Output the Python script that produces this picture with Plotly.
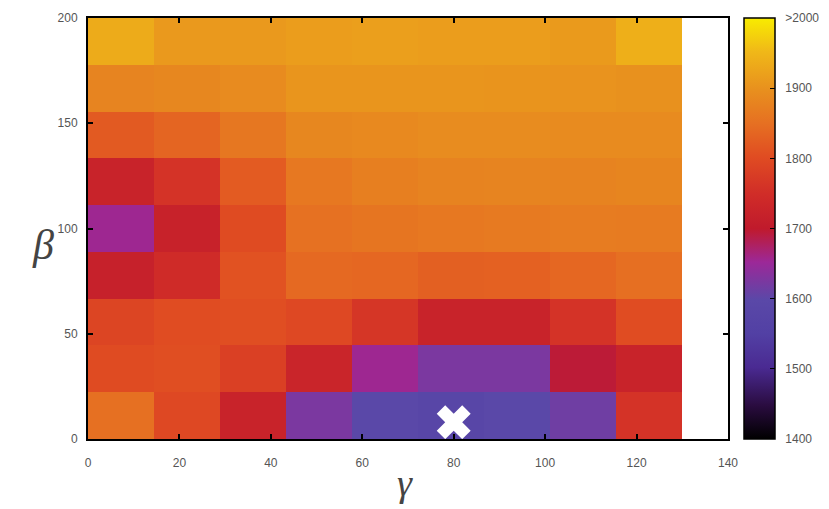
import plotly.graph_objects as go

# Grid edges (gamma, beta)
gamma_edges = [0, 14.44, 28.89, 43.33, 57.78, 72.22, 86.67, 101.11, 115.56, 130]
beta_edges = [0, 22.22, 44.44, 66.67, 88.89, 111.11, 133.33, 155.56, 177.78, 200]

# Values, rows from beta=0 (bottom) to beta=200 (top)
row0 = [1850, 1795, 1725, 1625, 1595, 1585, 1595, 1615, 1760]
row1 = [1800, 1805, 1782, 1728, 1655, 1625, 1625, 1695, 1725]
row2 = [1790, 1802, 1805, 1795, 1765, 1725, 1725, 1760, 1802]
row3 = [1718, 1745, 1810, 1840, 1838, 1828, 1830, 1838, 1848]
row4 = [1655, 1720, 1800, 1852, 1858, 1862, 1865, 1868, 1866]
row5 = [1725, 1760, 1822, 1862, 1872, 1878, 1880, 1878, 1882]
row6 = [1820, 1835, 1860, 1885, 1888, 1892, 1892, 1890, 1890]
row7 = [1880, 1885, 1890, 1905, 1905, 1905, 1903, 1902, 1900]
row8 = [1935, 1910, 1910, 1915, 1918, 1915, 1915, 1912, 1940]
z = [row0, row1, row2, row3, row4, row5, row6, row7, row8]

best_gamma = [80]
best_beta = [8]

cb_tickvals = [1400, 1500, 1600, 1700, 1800, 1900, 2000]
cb_ticktext = ["1400", "1500", "1600", "1700", "1800", "1900", ">2000"]

colorscale = [
    [0.0, "#000000"],
    [0.08, "#2a0c40"],
    [0.17, "#4a2a92"],
    [0.25, "#5240a4"],
    [0.33, "#5a48a8"],
    [0.42, "#9c2898"],
    [0.5, "#c01a2c"],
    [0.58, "#d02c28"],
    [0.67, "#e04c22"],
    [0.75, "#e67022"],
    [0.83, "#e8901e"],
    [0.92, "#f0b818"],
    [1.0, "#f8ec00"],
]

pad = "\u00a0\u00a0"
fig = go.Figure()
fig.add_trace(go.Heatmap(
    x=gamma_edges, y=beta_edges, z=z,
    zmin=1400, zmax=2000, colorscale=colorscale,
    colorbar=dict(
        x=1.025, xanchor="left", y=0.5, yanchor="middle",
        len=1.0, lenmode="fraction", thickness=31, thicknessmode="pixels",
        outlinewidth=1.5, outlinecolor="black",
        tickvals=cb_tickvals, ticktext=[pad + t for t in cb_ticktext],
        ticks="inside", ticklen=5, tickcolor="black",
        tickfont=dict(family="Liberation Sans", size=12, color="#555"),
        xpad=0, ypad=0,
    ),
    showscale=True,
))
fig.add_trace(go.Scatter(
    x=best_gamma, y=best_beta, mode="markers",
    marker=dict(symbol="x", size=30, color="white", line=dict(width=0)),
    showlegend=False, hoverinfo="skip",
))

axis_common = dict(
    showgrid=False, zeroline=False, showline=True, linecolor="black", linewidth=2,
    mirror="ticks", ticks="inside", ticklen=5, tickcolor="black", tickwidth=1.5,
    tickfont=dict(family="Liberation Sans", size=12, color="#555"),
)
fig.update_layout(
    width=829, height=509,
    margin=dict(l=88, r=101, t=18, b=70, autoexpand=False),
    plot_bgcolor="white", paper_bgcolor="white",
    xaxis=dict(range=[0, 140], tickvals=[0, 20, 40, 60, 80, 100, 120, 140],
               ticklabelstandoff=12, **axis_common),
    yaxis=dict(range=[0, 200], tickvals=[0, 50, 100, 150, 200],
               ticklabelstandoff=6, **axis_common),
    showlegend=False,
)
fig.add_annotation(text="β", xref="paper", yref="paper", x=-0.09, y=0.46,
                   showarrow=False,
                   font=dict(family="Liberation Serif", size=42, color="#444", style="italic"))
fig.add_annotation(text="γ", xref="paper", yref="paper", x=0.495, y=-0.105,
                   yanchor="middle", showarrow=False,
                   font=dict(family="Liberation Serif", size=38, color="#444", style="italic"))
fig.write_html("out.html")
